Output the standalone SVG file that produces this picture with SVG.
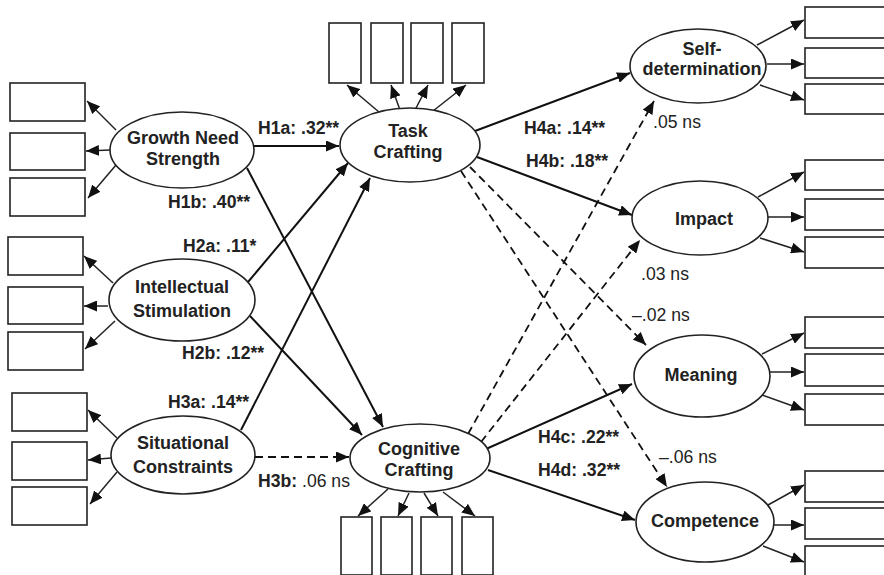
<svg xmlns="http://www.w3.org/2000/svg" width="884" height="575" viewBox="0 0 884 575">
  <style>
    .bg { fill: #ffffff; }
    .box { fill: #ffffff; stroke: #222; stroke-width: 1.6; }
    .lat { fill: #ffffff; stroke: #222; stroke-width: 1.6; }
    .lbl { font-family: "Liberation Sans", Arial, sans-serif; font-size: 18px; font-weight: bold; fill: #222; text-anchor: middle; }
    .path { font-family: "Liberation Sans", Arial, sans-serif; font-size: 17.6px; fill: #222; }
    .b { font-weight: bold; }
    .ind { stroke: #222; stroke-width: 1.5; fill: none; marker-end: url(#tip); }
    .edge { stroke: #111; stroke-width: 2; fill: none; marker-end: url(#tip); }
    .ns { stroke: #111; stroke-width: 1.8; fill: none; stroke-dasharray: 8 5; marker-end: url(#tip); }
  </style>
  <defs>
    <marker id="tip" markerUnits="userSpaceOnUse" markerWidth="13" markerHeight="11" refX="13" refY="5.5" orient="auto">
      <path d="M0,0 L13,5.5 L0,11 z" fill="#111"/>
    </marker>
  </defs>
  <rect class="bg" x="0" y="0" width="884" height="575"/>

  <!-- structural paths -->
  <g id="connectors">
    <line class="edge" x1="254" y1="146" x2="339" y2="146"/>
    <line class="edge" x1="247" y1="168" x2="383" y2="427"/>
    <line class="edge" x1="248" y1="282" x2="348" y2="163"/>
    <line class="edge" x1="250" y1="316" x2="362" y2="435"/>
    <line class="edge" x1="241" y1="430" x2="370" y2="178"/>
    <line class="ns" x1="255" y1="457" x2="349" y2="457"/>
    <line class="edge" x1="475" y1="131" x2="630" y2="73"/>
    <line class="edge" x1="477" y1="157" x2="632" y2="215"/>
    <line class="ns" x1="470" y1="167" x2="646" y2="345"/>
    <line class="ns" x1="461" y1="171" x2="667" y2="487"/>
    <line class="ns" x1="468" y1="434" x2="654" y2="101"/>
    <line class="ns" x1="481" y1="442" x2="640" y2="240"/>
    <line class="edge" x1="486" y1="449" x2="632" y2="384"/>
    <line class="edge" x1="488" y1="470" x2="635" y2="520"/>

    <!-- indicator arrows -->
    <line class="ind" x1="116" y1="130" x2="87" y2="101"/>
    <line class="ind" x1="110" y1="150" x2="86" y2="151"/>
    <line class="ind" x1="116" y1="165" x2="88" y2="198"/>
    <line class="ind" x1="113" y1="283" x2="84" y2="256"/>
    <line class="ind" x1="108" y1="306" x2="84" y2="306"/>
    <line class="ind" x1="115" y1="321" x2="85" y2="349"/>
    <line class="ind" x1="117" y1="438" x2="88" y2="410"/>
    <line class="ind" x1="111" y1="458" x2="88" y2="460"/>
    <line class="ind" x1="117" y1="472" x2="90" y2="504"/>

    <line class="ind" x1="379" y1="112" x2="347" y2="85"/>
    <line class="ind" x1="400" y1="110" x2="391" y2="85"/>
    <line class="ind" x1="415" y1="110" x2="428" y2="85"/>
    <line class="ind" x1="433" y1="111" x2="466" y2="85"/>

    <line class="ind" x1="388" y1="489" x2="358" y2="516"/>
    <line class="ind" x1="409" y1="493" x2="398" y2="516"/>
    <line class="ind" x1="424" y1="493" x2="438" y2="516"/>
    <line class="ind" x1="443" y1="492" x2="475" y2="516"/>

    <line class="ind" x1="757" y1="45" x2="804" y2="20"/>
    <line class="ind" x1="767" y1="64" x2="804" y2="64"/>
    <line class="ind" x1="760" y1="85" x2="804" y2="100"/>
    <line class="ind" x1="758" y1="197" x2="804" y2="172"/>
    <line class="ind" x1="768" y1="217" x2="804" y2="217"/>
    <line class="ind" x1="760" y1="238" x2="804" y2="252"/>
    <line class="ind" x1="762" y1="354" x2="804" y2="333"/>
    <line class="ind" x1="770" y1="372" x2="804" y2="372"/>
    <line class="ind" x1="762" y1="395" x2="804" y2="410"/>
    <line class="ind" x1="768" y1="505" x2="804" y2="485"/>
    <line class="ind" x1="774" y1="525" x2="804" y2="525"/>
    <line class="ind" x1="763" y1="546" x2="804" y2="562"/>
  </g>

  <!-- indicator boxes -->
  <g id="indicators">
    <rect class="box" x="10" y="83" width="75" height="38"/>
    <rect class="box" x="10" y="133" width="75" height="37"/>
    <rect class="box" x="10" y="178" width="75" height="38"/>
    <rect class="box" x="8" y="237" width="75" height="38"/>
    <rect class="box" x="8" y="287" width="75" height="37"/>
    <rect class="box" x="8" y="332" width="75" height="38"/>
    <rect class="box" x="12" y="393" width="75" height="38"/>
    <rect class="box" x="12" y="442" width="75" height="38"/>
    <rect class="box" x="12" y="487" width="75" height="38"/>

    <rect class="box" x="329" y="23" width="32" height="60"/>
    <rect class="box" x="371" y="23" width="32" height="60"/>
    <rect class="box" x="411" y="23" width="32" height="60"/>
    <rect class="box" x="452" y="23" width="32" height="60"/>

    <rect class="box" x="341" y="517" width="31" height="58"/>
    <rect class="box" x="381" y="517" width="31" height="58"/>
    <rect class="box" x="421" y="517" width="31" height="58"/>
    <rect class="box" x="462" y="517" width="31" height="58"/>

    <rect class="box" x="805" y="7" width="100" height="31"/>
    <rect class="box" x="805" y="48" width="100" height="30"/>
    <rect class="box" x="805" y="84" width="100" height="30"/>
    <rect class="box" x="805" y="160" width="100" height="30"/>
    <rect class="box" x="805" y="199" width="100" height="31"/>
    <rect class="box" x="805" y="237" width="100" height="31"/>
    <rect class="box" x="805" y="317" width="100" height="31"/>
    <rect class="box" x="805" y="354" width="100" height="32"/>
    <rect class="box" x="805" y="394" width="100" height="31"/>
    <rect class="box" x="805" y="471" width="100" height="31"/>
    <rect class="box" x="805" y="508" width="100" height="31"/>
    <rect class="box" x="805" y="546" width="100" height="31"/>
  </g>

  <!-- latent constructs -->
  <g id="growth-need-strength">
    <ellipse class="lat" cx="182" cy="150" rx="72" ry="38"/>
    <text class="lbl" x="183" y="144">Growth Need</text>
    <text class="lbl" x="183" y="165">Strength</text>
  </g>
  <g id="intellectual-stimulation">
    <ellipse class="lat" cx="182" cy="300" rx="73" ry="41"/>
    <text class="lbl" x="182" y="293">Intellectual</text>
    <text class="lbl" x="182" y="317">Stimulation</text>
  </g>
  <g id="situational-constraints">
    <ellipse class="lat" cx="183" cy="455" rx="72" ry="39"/>
    <text class="lbl" x="183" y="449">Situational</text>
    <text class="lbl" x="183" y="473">Constraints</text>
  </g>
  <g id="task-crafting">
    <ellipse class="lat" cx="410" cy="145" rx="70" ry="37"/>
    <text class="lbl" x="408" y="137">Task</text>
    <text class="lbl" x="408" y="158">Crafting</text>
  </g>
  <g id="cognitive-crafting">
    <ellipse class="lat" cx="420" cy="458" rx="70" ry="34"/>
    <text class="lbl" x="419" y="455">Cognitive</text>
    <text class="lbl" x="419" y="476">Crafting</text>
  </g>
  <g id="self-determination">
    <ellipse class="lat" cx="698" cy="66" rx="68" ry="37"/>
    <text class="lbl" x="702" y="55">Self-</text>
    <text class="lbl" x="702" y="75">determination</text>
  </g>
  <g id="impact">
    <ellipse class="lat" cx="700" cy="218" rx="68" ry="37"/>
    <text class="lbl" x="704" y="225">Impact</text>
  </g>
  <g id="meaning">
    <ellipse class="lat" cx="702" cy="376" rx="68" ry="41"/>
    <text class="lbl" x="701" y="381">Meaning</text>
  </g>
  <g id="competence">
    <ellipse class="lat" cx="705" cy="522" rx="69" ry="40"/>
    <text class="lbl" x="705" y="527">Competence</text>
  </g>

  <!-- path coefficients -->
  <g id="coefficients">
    <text class="path b" x="258" y="134">H1a: .32**</text>
    <text class="path b" x="168" y="208">H1b: .40**</text>
    <text class="path b" x="183" y="252">H2a: .11*</text>
    <text class="path b" x="182" y="359">H2b: .12**</text>
    <text class="path b" x="168" y="408">H3a: .14**</text>
    <text class="path" x="258" y="487"><tspan class="b">H3b:</tspan> .06 ns</text>
    <text class="path b" x="524" y="134">H4a: .14**</text>
    <text class="path b" x="526" y="167">H4b: .18**</text>
    <text class="path" x="653" y="128">.05 ns</text>
    <text class="path" x="641" y="280">.03 ns</text>
    <text class="path" x="632" y="321">–.02 ns</text>
    <text class="path b" x="538" y="443">H4c: .22**</text>
    <text class="path" x="659" y="463">–.06 ns</text>
    <text class="path b" x="538" y="476">H4d: .32**</text>
  </g>
</svg>
